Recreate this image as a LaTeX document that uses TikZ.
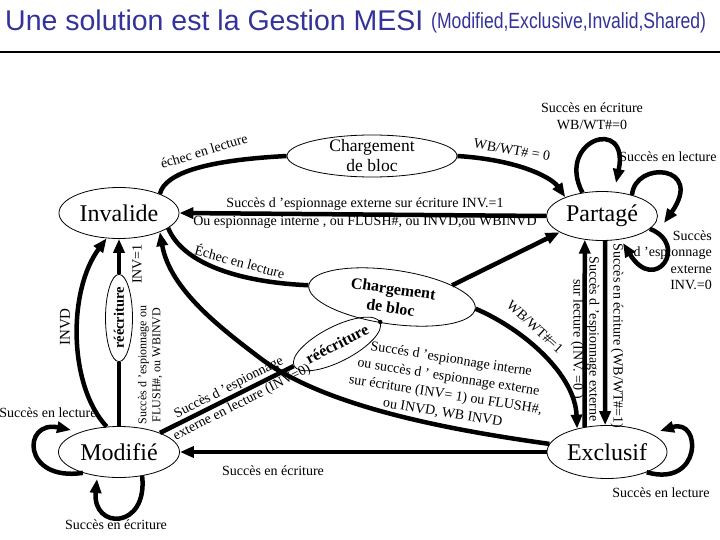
\documentclass[tikz,border=0pt]{standalone}
\usepackage{fontspec}
\setmainfont{Liberation Serif}
\newfontfamily\titlefont{Liberation Sans}
\newfontfamily\narrowfont[FakeStretch=0.8]{Liberation Sans}
\usetikzlibrary{shapes.geometric,arrows.meta}
\definecolor{titleblue}{RGB}{51,51,153}
\begin{document}
\begin{tikzpicture}[x=1pt,y=-1pt,
  st/.style={ellipse,draw,line width=0.8pt,inner sep=0pt},
  big/.style={font=\fontsize{24}{26}\selectfont},
  thk/.style={line width=4.5pt},
  arr/.style={line width=4.5pt,-{Triangle[length=14pt,width=11pt]}},
  lbl/.style={font=\fontsize{14}{17}\selectfont,inner sep=0pt,align=center},
  blbl/.style={font=\bfseries\fontsize{16}{19}\selectfont,inner sep=0pt,align=center}]
\fill[white] (0,0) rectangle (720,540);
\useasboundingbox (0,0) rectangle (720,540);

% title
\node[anchor=base west,inner sep=0pt,text=titleblue,font=\titlefont\fontsize{28.5}{30}\selectfont] (title) at (5,31) {Une solution est la Gestion MESI};
\node[anchor=base west,inner sep=0pt,text=titleblue,font=\narrowfont\fontsize{22}{24}\selectfont] (subtitle) at (431,29) {(Modified,Exclusive,Invalid,Shared)};
\draw[line width=1.2pt] (0,52) -- (720,52);

% states
\node[st,big,minimum width=120pt,minimum height=51pt] (inv) at (119,213) {Invalide};
\node[st,minimum width=170pt,minimum height=42pt] (chg1) at (372,156) {};
\node[lbl,font=\fontsize{17.5}{20}\selectfont] (chg1t) at (372,156) {Chargement\\de bloc};
\node[st,big,minimum width=111pt,minimum height=49pt] (par) at (602,216) {Partagé};
\node[st,big,minimum width=120pt,minimum height=53pt] (exc) at (607,452) {Exclusif};
\node[st,big,minimum width=121pt,minimum height=51pt] (mod) at (119,452) {Modifié};
\node[st,minimum width=87pt,minimum height=27pt,rotate=90,font=\bfseries\fontsize{14.5}{16}\selectfont] (ree1) at (119,318) {réécriture};
\node[st,minimum width=168pt,minimum height=54pt,rotate=-8] (chg2) at (392,297) {};
\node[blbl,rotate=-8] (chg2t) at (392,298) {Chargement\\de bloc};
\node[st,minimum width=95pt,minimum height=35pt,rotate=27,font=\bfseries\fontsize{16}{18}\selectfont] (ree2) at (337,344) {réécriture};

% edges
\draw[thk] (chg1.west) .. controls (210,160) and (165,172) .. (inv.25);
\node[lbl,rotate=17] (l1) at (204,151) {échec en lecture};

\draw[arr] (chg1.east) .. controls (520,160) and (552,178) .. (par.153);
\node[lbl,rotate=-10] (l2) at (512,150) {WB/WT\# = 0};

\draw[arr] (par.west) -- (inv.east);
\node[lbl] (l3a) at (365,204) {Succès d ’espionnage externe sur écriture INV.=1};
\node[lbl] (l3b) at (365,222) {Ou espionnage interne , ou FLUSH\#, ou INVD,ou WBINVD};

\draw[thk] (chg2.west) .. controls (235,282) and (182,262) .. (inv.-17);
\node[lbl,rotate=-15] (l4) at (240,261) {Échec en lecture};

\draw[arr] (exc.172) .. controls (450,430) and (325,407) .. (260,358) .. controls (222,329) and (170,290) .. (inv.-25);
\node[lbl,rotate=-9,font=\fontsize{14}{18}\selectfont] (l5) at (447,386) {Succés d ’espionnage interne\\ou succès d ’ espionnage externe\\sur écriture (INV= 1) ou FLUSH\#,\\ou INVD, WB INVD};

\draw[arr] (mod.116) .. controls (68,385) and (68,290) .. (inv.-116);
\node[lbl,rotate=90,font=\fontsize{15}{17}\selectfont] (l6) at (65,327) {INVD};

\draw[thk] (mod.north) -- (ree1.west);
\draw[arr] (ree1.east) -- (inv.south);
\node[lbl,rotate=90] (l7a) at (137,264) {INV=1};
\node[lbl,rotate=90,font=\fontsize{12}{14}\selectfont] (l7b) at (150,365) {Succès d ’espionnage ou\\FLUSH\#, ou WBINVD};

\draw[thk] (mod.25) -- (ree2.west);
\fill (ree2.east) circle (2.2);
\node[lbl,rotate=27] (l8a) at (229,388) {Succès d ’espionnage};
\node[lbl,rotate=27] (l8b) at (242,403) {externe en lecture (INV=0)};

\draw[arr] (exc.west) -- (mod.east);
\node[lbl] (l9) at (273,471) {Succès en écriture};

\draw[arr] (chg2.east) .. controls (525,330) and (575,375) .. (exc.142);
\node[lbl,rotate=-42] (l10) at (535,327) {WB/WT\#=1};

\draw[arr] (chg2.19) -- (par.201);

% Partage loops
\draw[arr] (par.130) .. controls (555,140) and (630,115) .. (616,183);
\node[lbl] (l11) at (592,116) {Succès en écriture\\WB/WT\#=0};
\draw[arr] (par.35) .. controls (635,160) and (705,165) .. (664,223);
\node[lbl] (l12) at (668,157) {Succès en lecture};
\draw[arr] (par.-15) .. controls (690,245) and (655,295) .. (623,243);
\node[lbl,anchor=east,align=right,font=\fontsize{14}{16.5}\selectfont] (l13) at (712,260) {Succès\\d ’espionnage\\externe\\INV.=0};

% Partage <-> Exclusif
\draw[arr] (exc.132) -- (par.234);
\node[lbl,rotate=-90,font=\fontsize{14}{16}\selectfont] (l14) at (585,339) {Succès d ’espionnage externe\\sur lecture (INV. =0 )};
\draw[arr] (par.277) -- (exc.94);
\node[lbl,rotate=-90] (l15) at (617,336) {Succès en écriture (WB/WT\#=1)};

% Exclusif loop
\draw[arr] (exc.-27) .. controls (702,488) and (702,418) .. (660,431);
\node[lbl] (l16) at (661,493) {Succès en lecture};

% Modifie loops
\draw[arr] (mod.-150) .. controls (22,482) and (22,420) .. (71,430);
\node[lbl] (l17) at (48,413) {Succès en lecture};
\draw[arr] (mod.-46) .. controls (148,530) and (92,530) .. (97,479);
\node[lbl] (l18) at (116,525) {Succès en écriture};
\end{tikzpicture}
\end{document}
